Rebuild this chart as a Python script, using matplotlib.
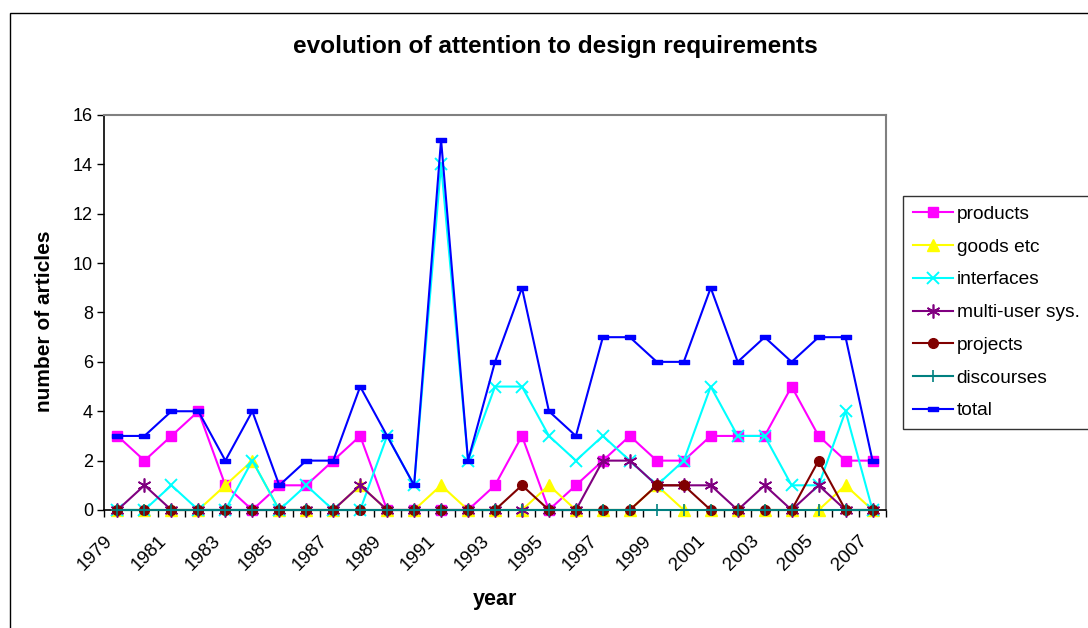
import matplotlib
matplotlib.use("Agg")
import matplotlib.pyplot as plt
from matplotlib.patches import Rectangle

plt.rcParams['font.family'] = ['Liberation Sans', 'DejaVu Sans']

years = list(range(1979, 2008))
products = [3, 2, 3, 4, 1, 0, 1, 1, 2, 3, 0, 0, 0, 0, 1, 3, 0, 1, 2, 3, 2, 2, 3, 3, 3, 5, 3, 2, 2]
goods = [0, 0, 0, 0, 1, 2, 0, 0, 0, 1, 0, 0, 1, 0, 0, 0, 1, 0, 0, 0, 1, 0, 0, 0, 0, 0, 0, 1, 0]
interfaces = [0, 0, 1, 0, 0, 2, 0, 1, 0, 0, 3, 1, 14, 2, 5, 5, 3, 2, 3, 2, 1, 2, 5, 3, 3, 1, 1, 4, 0]
multi_user = [0, 1, 0, 0, 0, 0, 0, 0, 0, 1, 0, 0, 0, 0, 0, 0, 0, 0, 2, 2, 1, 1, 1, 0, 1, 0, 1, 0, 0]
projects = [0, 0, 0, 0, 0, 0, 0, 0, 0, 0, 0, 0, 0, 0, 0, 1, 0, 0, 0, 0, 1, 1, 0, 0, 0, 0, 2, 0, 0]
discourses = [0] * 29
total = [3, 3, 4, 4, 2, 4, 1, 2, 2, 5, 3, 1, 15, 2, 6, 9, 4, 3, 7, 7, 6, 6, 9, 6, 7, 6, 7, 7, 2]

fig = plt.figure(figsize=(10.88, 6.28), dpi=100)

# chart area frame
fig.patches.append(Rectangle((10 / 1088, -0.01), 1.1, (628 - 13) / 628 + 0.01,
                             transform=fig.transFigure, fill=False,
                             edgecolor='black', linewidth=1.0))

ax = fig.add_axes([104 / 1088, (628 - 510) / 628, 782 / 1088, 395 / 628])
x = list(range(len(years)))

dash = [(-1, -0.45), (1, -0.45), (1, 0.45), (-1, 0.45), (-1, -0.45)]
series = [
    ("products", products, '#FF00FF', dict(marker='s', ms=7, mec='#FF00FF')),
    ("goods etc", goods, '#FFFF00', dict(marker='^', ms=8, mec='#FFFF00')),
    ("interfaces", interfaces, '#00FFFF', dict(marker='x', ms=8, mew=1.4)),
    ("multi-user sys.", multi_user, '#800080', dict(marker=(6, 2, 0), ms=10, mew=1.2)),
    ("projects", projects, '#800000', dict(marker='o', ms=7, mec='#800000')),
    ("discourses", discourses, '#008080', dict(marker='+', ms=8, mew=1.2)),
    ("total", total, '#0000FF', dict(marker=dash, ms=7, mec='#0000FF')),
]
for i, (label, vals, color, kw) in enumerate(series):
    ax.plot(x, vals, color=color, lw=1.5, label=label, zorder=3 + i,
            clip_on=False, mfc=color, **kw)

ax.set_xlim(-0.5, len(years) - 0.5)
ax.set_ylim(0, 16)
ax.set_yticks(range(0, 17, 2))
ax.set_yticklabels([str(v) for v in range(0, 17, 2)], fontsize=13)
ax.set_xticks([i - 0.5 for i in range(len(years) + 1)])
ax.set_xticklabels([])
ax.tick_params(axis='x', direction='out', length=5, width=1, color='black')
ax.tick_params(axis='y', direction='out', length=5, width=1, color='black', pad=3)

for i, yr in enumerate(years):
    if (yr - 1979) % 2 == 0:
        ax.annotate(str(yr), xy=(i, 0), xycoords=('data', 'axes fraction'),
                    xytext=(-10, -16), textcoords='offset points',
                    rotation=45, ha='right', va='top', fontsize=13.5,
                    rotation_mode='anchor')

for side in ('top', 'right'):
    ax.spines[side].set_color('#808080')
    ax.spines[side].set_linewidth(1.5)
for side in ('left', 'bottom'):
    ax.spines[side].set_color('black')
    ax.spines[side].set_linewidth(1.2)

fig.text(555 / 1088, 1 - 47 / 628, "evolution of attention to design requirements",
         ha='center', va='center', fontsize=17.6, fontweight='bold')
fig.text(45 / 1088, 1 - 321 / 628, "number of articles", rotation=90,
         ha='center', va='center', fontsize=15, fontweight='bold')
fig.text(495 / 1088, 1 - 600 / 628, "year", ha='center', va='center',
         fontsize=15.5, fontweight='bold')

leg = fig.legend(loc='upper left', bbox_to_anchor=(903 / 1088, 1 - 196 / 628),
                 fontsize=13.8, frameon=True, fancybox=False, handlelength=2.1,
                 handletextpad=0.2, labelspacing=0.8, borderpad=0.5,
                 borderaxespad=0)
leg.get_frame().set_edgecolor('black')
leg.get_frame().set_linewidth(1.0)

fig.savefig("out.png", dpi=100)
